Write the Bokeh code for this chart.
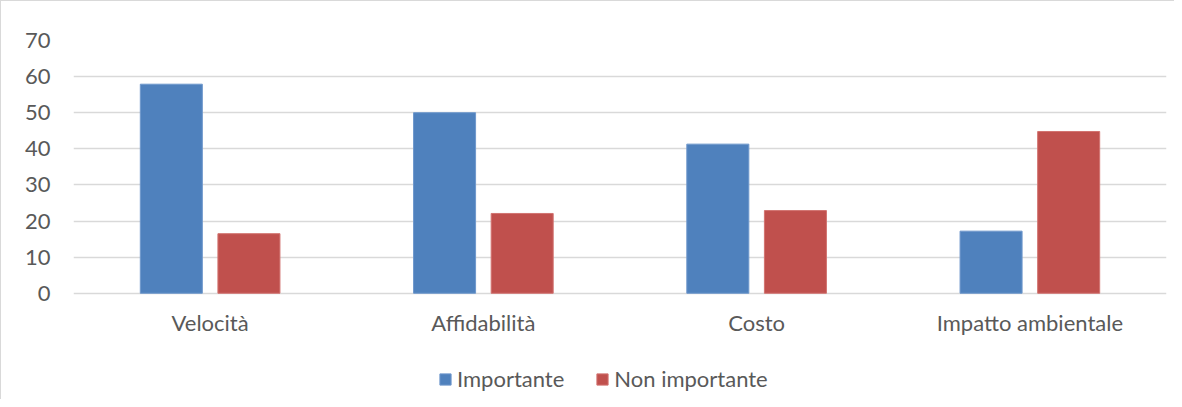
from bokeh.plotting import figure
from bokeh.models import ColumnDataSource, FactorRange, Range1d, FixedTicker, Legend, LegendItem
from bokeh.core.properties import value
from bokeh.transform import dodge
from bokeh.embed import file_html
from bokeh.resources import INLINE

categories = ["Velocità", "Affidabilità", "Costo", "Impatto ambientale"]
importante = [57.9, 50.0, 41.3, 17.2]
non_importante = [16.5, 22.1, 22.9, 44.8]
y_ticks = [0, 10, 20, 30, 40, 50, 60, 70]
series_names = ["Importante", "Non importante"]

FONT = "Lato"
TXT = "#595959"
GRID = "#d9d9d9"
FS = "22px"
Y_MIN = -29.7  # room below the baseline for category labels and legend

source = ColumnDataSource(data=dict(cat=categories, imp=importante, nonimp=non_importante,
                                    base=[0] * len(categories)))

p = figure(
    x_range=FactorRange(*categories),
    y_range=Range1d(Y_MIN, 70),
    width=1174, height=399,
    output_backend="svg", toolbar_location=None,
    x_axis_location=None,
    min_border_left=72, min_border_right=9, min_border_top=39, min_border_bottom=0,
    background_fill_color="white", border_fill_color="white",
    outline_line_color=None,
    styles={"border-top": "1px solid #d9d9d9", "border-left": "1px solid #d9d9d9"},
)

r1 = p.vbar(x=dodge("cat", -0.142, range=p.x_range), top="imp", width=0.227, source=source,
            fill_color="#4f81bd", line_color="#6f98cc", line_width=1)
r2 = p.vbar(x=dodge("cat", 0.142, range=p.x_range), top="nonimp", width=0.227, source=source,
            fill_color="#c0504d", line_color="#d27370", line_width=1)

# category labels under the baseline
p.text(x="cat", y="base", text="cat", source=source, y_offset=29,
       text_align="center", text_baseline="middle",
       text_font=value(FONT), text_font_size=value(FS), text_color=TXT)

p.yaxis.ticker = FixedTicker(ticks=y_ticks)
p.yaxis.axis_line_color = None
p.yaxis.major_tick_line_color = None
p.yaxis.minor_tick_line_color = None
p.yaxis.major_tick_in = 0
p.yaxis.major_tick_out = 0
p.yaxis.major_label_standoff = 23
p.yaxis.major_label_text_font = FONT
p.yaxis.major_label_text_font_size = FS
p.yaxis.major_label_text_color = TXT

p.xgrid.grid_line_color = None
p.ygrid.grid_line_color = GRID
p.ygrid.grid_line_width = 1.5

legend = Legend(
    items=[LegendItem(label=series_names[0], renderers=[r1]),
           LegendItem(label=series_names[1], renderers=[r2])],
    orientation="horizontal", location=(365, 8),
    glyph_width=14, glyph_height=14, label_standoff=5, spacing=31,
    label_text_font=FONT, label_text_font_size=FS, label_text_color=TXT,
    border_line_color=None, background_fill_alpha=0, padding=0, margin=0,
)
p.add_layout(legend, "center")

open("out.html", "w").write(file_html(p, INLINE))
